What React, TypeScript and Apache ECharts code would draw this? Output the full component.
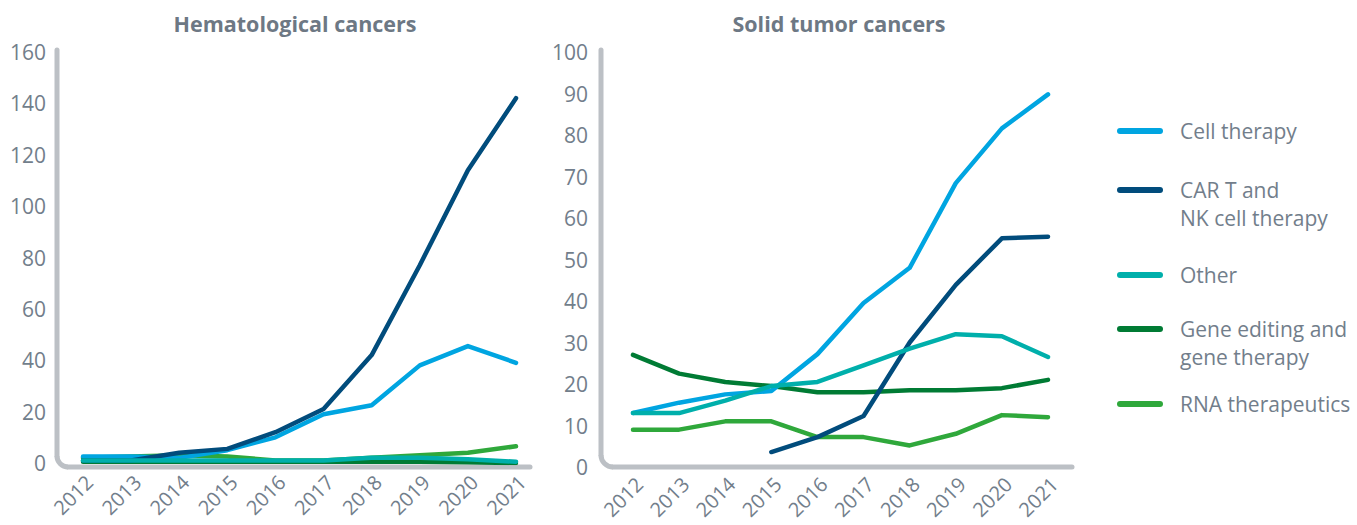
import React, { useEffect, useRef } from "react";
import * as echarts from "echarts";

const years = ["2012", "2013", "2014", "2015", "2016", "2017", "2018", "2019", "2020", "2021"];
const seriesNames = ["Cell therapy", "CAR T and\nNK cell therapy", "Other", "Gene editing and\ngene therapy", "RNA therapeutics"];
const colors = ["#00a5e1", "#014c7c", "#00afab", "#007b34", "#2fa83b"];

// Hematological cancers
const hemCell = [2.5, 2.5, 2, 5, 10, 19, 22.5, 38, 45.5, 39];
const hemCar = [1, 1, 4, 5.5, 12, 21, 42, 77, 114, 142];
const hemOther = [1, 1, 1, 1, 1, 1, 2, 2, 1.5, 0.5];
const hemGene = [0.5, 0.5, 0.5, 0.5, 0.5, 0.5, 0.5, 0.5, 0.3, 0];
const hemRna = [2, 2.5, 3, 2.5, 1, 1, 2, 3, 4, 6.5];

// Solid tumor cancers
const solCell = [13, 15.5, 17.5, 18.3, 27.2, 39.5, 48, 68.4, 81.6, 89.8];
const solCar = [null, null, null, 3.6, 7.2, 12.3, 30, 43.9, 55.1, 55.5];
const solOther = [13, 13, 16, 19.5, 20.5, 24.5, 28.5, 32, 31.5, 26.5];
const solGene = [27, 22.5, 20.5, 19.5, 18, 18, 18.5, 18.5, 19, 21];
const solRna = [9, 9, 11, 11, 7.2, 7.2, 5.2, 8, 12.5, 12];

const leftTicks = { min: 0, max: 160, interval: 20 };
const rightTicks = { min: 0, max: 100, interval: 10 };

const FONT = "Open Sans";
const TEXT = "#727e8b";
const AXIS = "#bcc0c5";

export default function App() {
  const ref = useRef<HTMLDivElement>(null);
  useEffect(() => {
    document.body.style.margin = "0";
    const chart = echarts.init(ref.current!, undefined, { renderer: "svg" });

    const grids = [
      { left: 83, top: 52, width: 433, height: 411 },
      { left: 633, top: 52, width: 415, height: 415 },
    ];

    const xAxis = grids.map((g, i) => ({
      type: "category" as const,
      gridIndex: i,
      data: years,
      boundaryGap: false,
      axisLine: { show: false },
      axisTick: { show: false },
      axisLabel: {
        rotate: 45,
        color: TEXT,
        fontFamily: FONT,
        fontSize: 20,
        margin: i === 0 ? 22 : 20,
        padding: [0, -9, 0, 0],
        interval: 0,
      },
      splitLine: { show: false },
    }));

    const yAxis = [leftTicks, rightTicks].map((t, i) => ({
      type: "value" as const,
      gridIndex: i,
      min: t.min,
      max: t.max,
      interval: t.interval,
      axisLine: { show: false },
      axisTick: { show: false },
      splitLine: { show: false },
      axisLabel: {
        color: TEXT,
        fontFamily: FONT,
        fontSize: 21,
        margin: i === 0 ? 37 : 45,
      },
    }));

    const hem = [hemCell, hemCar, hemOther, hemGene, hemRna];
    const sol = [solCell, solCar, solOther, solGene, solRna];
    const order = [4, 3, 0, 1, 2];
    const series: any[] = [];
    [hem, sol].forEach((set, gi) => {
      order.forEach((k) => {
        series.push({
          type: "line",
          name: seriesNames[k],
          xAxisIndex: gi,
          yAxisIndex: gi,
          data: set[k],
          showSymbol: false,
          symbol: "none",
          lineStyle: { color: colors[k], width: 4.5, cap: "round", join: "round" },
          connectNulls: false,
          z: 2,
        });
      });
    });

    const axisShape = (x: number, top: number, y: number, right: number, r: number) => [
      { type: "line", shape: { x1: x, y1: top, x2: x, y2: y - r }, style: { stroke: AXIS, lineWidth: 5, lineCap: "round" }, z: 1 },
      { type: "arc", shape: { cx: x + r, cy: y - r, r, startAngle: Math.PI / 2, endAngle: Math.PI }, style: { stroke: AXIS, lineWidth: 5, fill: "none" }, z: 1 },
      { type: "line", shape: { x1: x + r, y1: y, x2: right, y2: y }, style: { stroke: AXIS, lineWidth: 5, lineCap: "round" }, z: 1 },
    ];

    const legendY = [131, 190, 275, 329, 404];
    const legendEls: any[] = [];
    seriesNames.forEach((n, i) => {
      legendEls.push({
        type: "line",
        shape: { x1: 1120, y1: legendY[i], x2: 1160, y2: legendY[i] },
        style: { stroke: colors[i], lineWidth: 6, lineCap: "round" },
      });
      legendEls.push({
        type: "text",
        x: 1180,
        y: legendY[i] - 14,
        style: {
          text: n,
          fill: TEXT,
          font: `21px "${FONT}"`,
          lineHeight: 28,
          textVerticalAlign: "top",
        },
      });
    });

    chart.setOption({
      animation: false,
      textStyle: { fontFamily: FONT },
      title: [
        { text: "Hematological cancers", left: 290, top: 7, textAlign: "center", textStyle: { color: "#6d7884", fontFamily: FONT, fontSize: 21.5, fontWeight: "bold" } },
        { text: "Solid tumor cancers", left: 834, top: 7, textAlign: "center", textStyle: { color: "#6d7884", fontFamily: FONT, fontSize: 21.5, fontWeight: "bold" } },
      ],
      grid: grids,
      xAxis,
      yAxis,
      series,
      graphic: [
        ...axisShape(57, 50, 467, 530, 11),
        ...axisShape(601, 50, 467, 1072, 12),
        ...legendEls,
      ],
    });
    return () => chart.dispose();
  }, []);
  return <div ref={ref} style={{ width: 1357, height: 525 }} />;
}
